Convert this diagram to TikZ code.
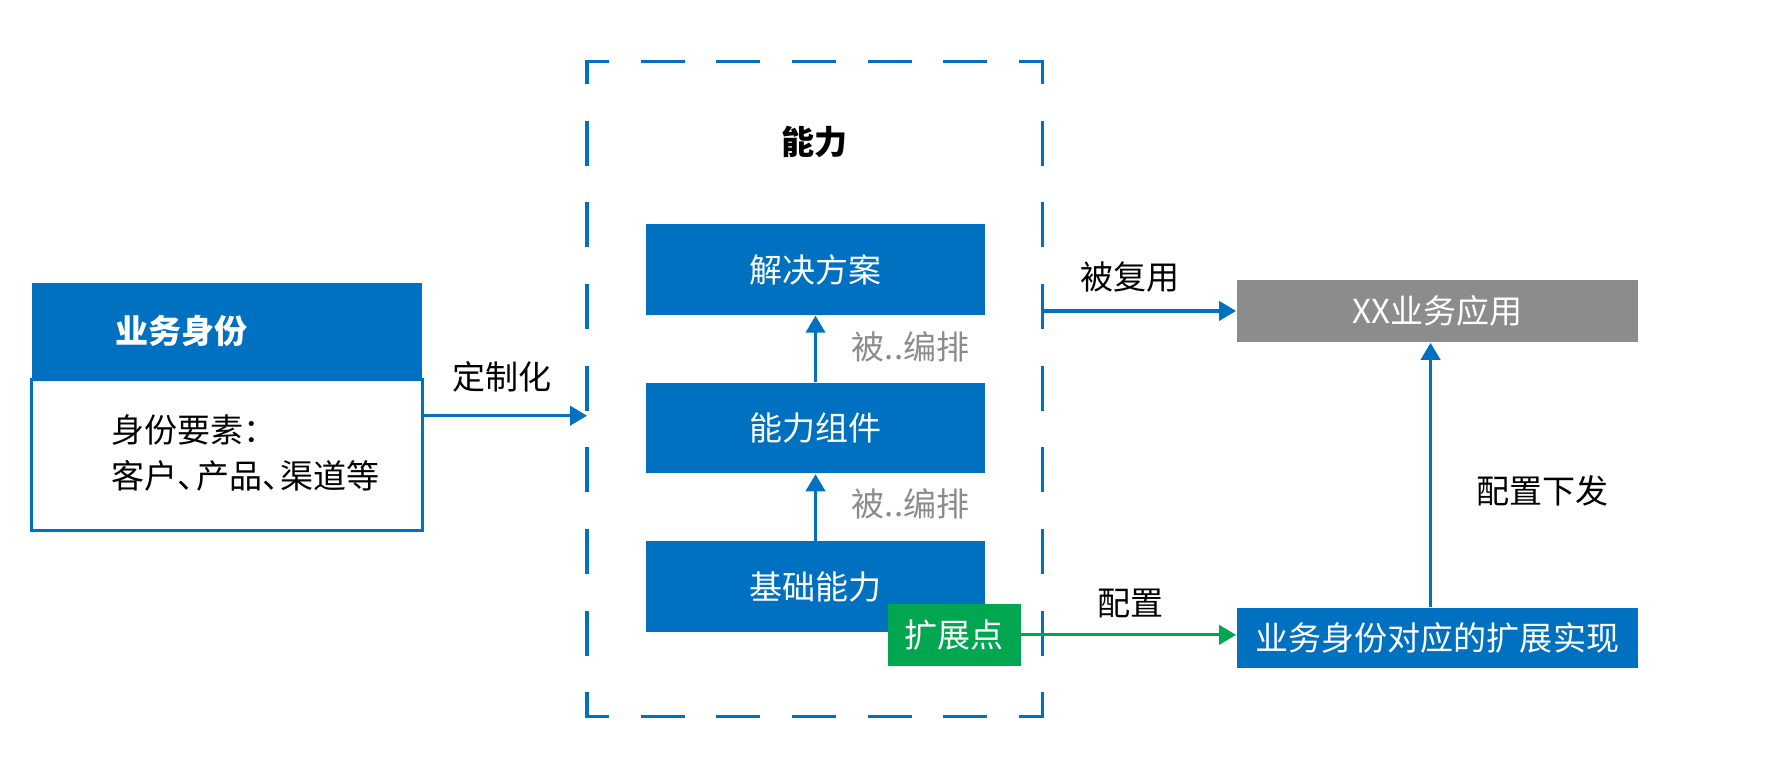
\documentclass[tikz,border=0pt]{standalone}
\usepackage{fontspec}
\setmainfont{Noto Sans CJK SC}
\usetikzlibrary{arrows.meta}
\definecolor{capblue}{RGB}{0,112,192}
\definecolor{appgray}{RGB}{140,140,140}
\definecolor{extgreen}{RGB}{0,166,80}
\newcommand{\dun}{、\kern-0.45em}
\tikzset{
  blk/.style={fill=capblue, text=white, minimum width=3cm, minimum height=0.8cm, inner sep=0pt},
  arr/.style={capblue, line width=0.8pt, -{Triangle[width=0.17cm,length=0.15cm]}},
  hdash/.style={capblue, line width=0.8pt, line cap=rect, dash pattern=on 0.36cm off 0.308cm, dash phase=0.18cm},
  vdash/.style={capblue, line width=0.8pt, line cap=rect, dash pattern=on 0.37cm off 0.351cm, dash phase=0.185cm},
  note/.style={text=appgray},
}
\begin{document}
\begin{tikzpicture}[font=\fontsize{8.3pt}{11.4pt}\selectfont]
 \useasboundingbox (0,0) rectangle (15.68,-6.83);

 \node[draw=capblue, line width=0.8pt, minimum width=3.45cm, minimum height=1.33cm, inner sep=0pt] (idbody) at (2.005,-4.015) {};
 \node[fill=capblue, text=white, text width=1.97cm, inner xsep=0.74cm, inner ysep=0pt, minimum height=0.85cm, align=left] (idhead) at (2.005,-2.925) {\textbf{业务身份}};
 \node[anchor=west, align=left, inner sep=0pt] (idtext) at (0.98,-4.0) {身份要素：\\客户\dun 产品\dun 渠道等};

 \node[minimum width=4.01cm, minimum height=5.77cm, inner sep=0pt] (cap) at (7.195,-3.435) {};
 \node (captitle) at (7.19,-1.25) {\textbf{能力}};
 \node[blk] (plan)  at (7.2,-2.38) {解决方案};
 \node[blk] (comp)  at (7.2,-3.78) {能力组件};
 \node[blk] (base)  at (7.2,-5.18) {基础能力};
 \node[fill=extgreen, text=white, minimum width=1.17cm, minimum height=0.55cm, inner sep=0pt] (ext) at (8.425,-5.605) {扩展点};
 \node[note] (orch1) at (8.04,-3.06) {被..编排};
 \node[note] (orch2) at (8.04,-4.45) {被..编排};

 \node[fill=appgray, text=white, minimum width=3.54cm, minimum height=0.55cm, inner sep=0pt] (app)  at (12.69,-2.745) {XX业务应用};
 \node[blk, minimum width=3.54cm, minimum height=0.53cm] (impl) at (12.69,-5.635) {业务身份对应的扩展实现};

 \node (custom) at (4.43,-3.33) {定制化};
 \node (reuse)  at (9.98,-2.45) {被复用};
 \node (conf)   at (9.98,-5.33) {配置};
 \node (push)   at (13.62,-4.33) {配置下发};

 \draw[hdash] (cap.north west) -- (cap.north east) (cap.south west) -- (cap.south east);
 \draw[vdash] (cap.north west) -- (cap.south west) (cap.north east) -- (cap.south east);

 \coordinate (cin) at (cap.west |- 0,-3.67);
 \draw[arr] (cin -| idbody.east) -- (cin);
 \draw[arr] (comp) to (plan);
 \draw[arr] (base) to (comp);
 \draw[arr] (app.west -| cap.east) -- (app.west);
 \draw[arr, extgreen] (ext.east) -- (ext.east -| impl.west);
 \draw[arr] (impl.north -| 12.63,0) -- (app.south -| 12.63,0);
\end{tikzpicture}
\end{document}
